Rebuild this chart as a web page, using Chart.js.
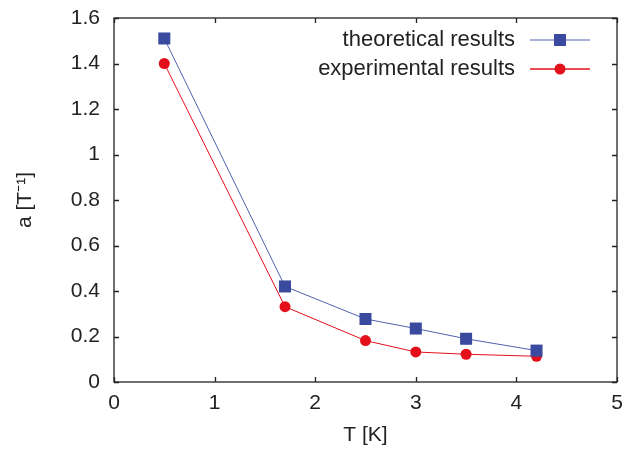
<!DOCTYPE html>
<html><head><meta charset="utf-8">
<script src="https://cdn.jsdelivr.net/npm/chart.js@4.4.0/dist/chart.umd.min.js"></script>
<style>html,body{margin:0;padding:0;background:#fff}#wrap{width:627px;height:452px}</style>
</head><body><div id="wrap"><canvas id="c"></canvas></div>
<script>
const tempK = [0.5, 1.7, 2.5, 3, 3.5, 4.2];
const theoretical = [1.51, 0.42, 0.277, 0.235, 0.19, 0.138];
const experimental = [1.40, 0.331, 0.182, 0.132, 0.122, 0.113];
const seriesNames = ['theoretical results', 'experimental results'];
const xTitle = 'T [K]';
const yTitle = 'a [T\u207B\u00B9]';

const blue = '#3a4a9e', blueLine = '#5060b0', red = '#e3101b';
const FONT = "'Liberation Sans', Arial, sans-serif";

const frame = {
  id: 'frame',
  afterDatasetsDraw(chart) {
    const {ctx, chartArea: a, scales} = chart;
    ctx.save();
    ctx.strokeStyle = '#222'; ctx.lineWidth = 1.3;
    ctx.strokeRect(a.left, a.top, a.right - a.left, a.bottom - a.top);
    const L = 5;
    ctx.beginPath();
    scales.x.ticks.forEach(t => {
      const px = Math.round(scales.x.getPixelForValue(t.value)) + 0.5;
      ctx.moveTo(px, a.bottom); ctx.lineTo(px, a.bottom - L);
      ctx.moveTo(px, a.top); ctx.lineTo(px, a.top + L);
    });
    scales.y.ticks.forEach(t => {
      const py = Math.round(scales.y.getPixelForValue(t.value)) + 0.5;
      ctx.moveTo(a.left, py); ctx.lineTo(a.left + L, py);
      ctx.moveTo(a.right, py); ctx.lineTo(a.right - L, py);
    });
    ctx.stroke();
    // legend
    ctx.font = '22px ' + FONT;
    ctx.textAlign = 'right'; ctx.textBaseline = 'middle';
    const rows = [40, 69];
    const x0 = 530, x1 = 590, xm = 560, tx = 515;
    chart.data.datasets.forEach((ds, i) => {
      const y = rows[i];
      ctx.fillStyle = '#222';
      ctx.fillText(ds.label, tx, y);
      ctx.strokeStyle = i === 0 ? '#8a95c8' : red;
      ctx.lineWidth = 1.4;
      ctx.beginPath(); ctx.moveTo(x0, y); ctx.lineTo(x1, y); ctx.stroke();
      ctx.fillStyle = ds.pointBackgroundColor;
      if (i === 0) { ctx.fillRect(xm - 6, y - 6, 12, 12); }
      else { ctx.beginPath(); ctx.arc(xm, y, 5.5, 0, Math.PI * 2); ctx.fill(); }
    });
    ctx.restore();
  }
};

new Chart(document.getElementById('c'), {
  type: 'scatter',
  data: {
    datasets: [
      { label: seriesNames[0], data: tempK.map((x, i) => ({x, y: theoretical[i]})),
        showLine: true, borderColor: blueLine, borderWidth: 1, pointStyle: 'rect',
        pointRadius: 8.5, pointHoverRadius: 8.5, pointBackgroundColor: blue, pointBorderWidth: 0 },
      { label: seriesNames[1], data: tempK.map((x, i) => ({x, y: experimental[i]})),
        showLine: true, borderColor: red, borderWidth: 1, pointStyle: 'circle',
        pointRadius: 5.5, pointHoverRadius: 5.5, pointBackgroundColor: red, pointBorderWidth: 0 }
    ]
  },
  options: {
    responsive: true, maintainAspectRatio: false, animation: false,
    layout: { padding: { left: 9, right: 10, top: 18, bottom: 0 } },
    plugins: { legend: { display: false }, tooltip: { enabled: false } },
    scales: {
      x: { type: 'linear', min: 0, max: 5,
        ticks: { stepSize: 1, color: '#222', font: { size: 21, family: FONT }, padding: 9 },
        grid: { display: false, drawTicks: false }, border: { display: false },
        title: { display: true, text: xTitle, color: '#222', font: { size: 21, family: FONT }, padding: { top: 9 } },
        afterFit(s) { s.height = 70; s.paddingLeft = 0; s.paddingRight = 0; } },
      y: { type: 'linear', min: 0, max: 1.6,
        ticks: { stepSize: 0.2, color: '#222', font: { size: 21, family: FONT }, padding: 14,
          callback: v => String(+v.toFixed(1)) },
        grid: { display: false, drawTicks: false }, border: { display: false },
        title: { display: true, text: yTitle, color: '#222', font: { size: 21, family: FONT }, padding: { bottom: 4 } },
        afterFit(s) { s.width = 105; s.paddingTop = 0; s.paddingBottom = 0; } }
    }
  },
  plugins: [frame]
});
</script></body></html>
